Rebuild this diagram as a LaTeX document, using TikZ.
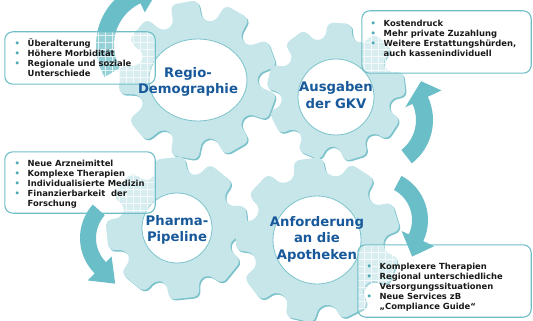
\documentclass[tikz,border=0pt]{standalone}
\usepackage{fontspec}
\setmainfont{DejaVu Sans}
\definecolor{gearc}{HTML}{C6E6EA}
\definecolor{gearsh}{HTML}{7CC3CB}
\definecolor{arrc}{HTML}{6ABEC7}
\definecolor{boxc}{HTML}{70BEC7}
\definecolor{labc}{HTML}{17599A}
\definecolor{bulc}{HTML}{4BA9B6}
\newcommand\gearpath[6]{%
 (#4+180/#1:#2) \foreach \k in {1,...,#1}{ -- (#4+360/#1*\k-#5:#2) -- (#4+360/#1*\k-#6:#3) -- (#4+360/#1*\k+#6:#3) -- (#4+360/#1*\k+#5:#2) } -- cycle}
\newcommand\bl{\makebox[13pt][l]{\textcolor{bulc}{•}}}
\newcommand\ind{\hspace*{13pt}}
\begin{document}
\begin{tikzpicture}[x=1pt,y=-1pt,
  gearlabel/.style={text=labc, font=\fontsize{13.2}{16.5}\selectfont\bfseries, align=center, inner sep=0pt},
  bullettext/.style={anchor=base west, align=left, inner sep=0pt, font=\fontsize{8.4}{10}\selectfont\bfseries, text=black!90},
  boxfill/.style={fill=white, fill opacity=0.3, draw=none, rounded corners=8pt, inner sep=0pt},
  boxborder/.style={draw=boxc, line width=1.1pt, rounded corners=8pt},
  gridlines/.style={draw=white, line width=0.7pt, opacity=0.7, step=7pt},
  arrowband/.style={fill=arrc},
  gearshadow/.style={fill=gearsh, rounded corners=6pt},
  gearbody/.style={fill=gearc, rounded corners=6pt},
  gearhole/.style={fill=white, draw=gearsh, line width=0.8pt}
]
\useasboundingbox (0,0) rectangle (533,321);

% gears
\fill[gearshadow, shift={(199.3,81.5)}] \gearpath{9}{60}{80}{-100}{14}{10};
\fill[gearbody, shift={(198,80)}] \gearpath{9}{60}{80}{-100}{14}{10};
\filldraw[gearhole] (198,80) ellipse [x radius=49, y radius=41];

\fill[gearshadow, shift={(178.3,229.5)}] \gearpath{8}{56}{72}{-6}{17}{12};
\fill[gearbody, shift={(177,228)}] \gearpath{8}{56}{72}{-6}{17}{12};
\filldraw[gearhole] (177,228) circle [radius=35];

\fill[gearshadow, shift={(337.3,93.5)}] \gearpath{9}{55}{70}{-7}{14}{10};
\fill[gearbody, shift={(336,92)}] \gearpath{9}{55}{70}{-7}{14}{10};
\filldraw[gearhole] (336,97) circle [radius=38];

\fill[gearshadow, shift={(319.3,241.5)}] \gearpath{9}{66}{83}{-97}{14}{10};
\fill[gearbody, shift={(318,240)}] \gearpath{9}{66}{83}{-97}{14}{10};
\filldraw[gearhole] (317,240) circle [radius=44];

% arrow 1 (under box 1)
\fill[arrowband, shift={(160,45)}] (150:64) arc[start angle=150, end angle=245, radius=64] -- (245:74) -- (268:55) -- (245:36) -- (245:46) arc[start angle=245, end angle=150, radius=46] -- cycle;

% boxes
\node[boxfill, minimum width=150pt, minimum height=52pt] (b1) at (80,58) {};
\node[boxfill, minimum width=169pt, minimum height=62pt] (b2) at (446.5,42) {};
\node[boxfill, minimum width=150pt, minimum height=61pt] (b3) at (80,182.5) {};
\node[boxfill, minimum width=173pt, minimum height=72pt] (b4) at (444.5,281) {};
\foreach \b in {b1,b2,b3,b4}{
  \begin{scope}
    \clip[rounded corners=8pt] (\b.north west) rectangle (\b.south east);
    \draw[gridlines] (\b.south west) grid (\b.north east);
  \end{scope}
  \draw[boxborder] (\b.north west) rectangle (\b.south east);
}

% box texts (anchored at the baseline of the last line)
\node[bullettext] (t1) at (14.5,76.5) {\bl Überalterung\\ \bl Höhere Morbidität\\ \bl Regionale und soziale\\ \ind Unterschiede};
\node[bullettext] (t2) at (370.5,56.5) {\bl Kostendruck\\ \bl Mehr private Zuzahlung\\ \bl Weitere Erstattungshürden,\\ \ind auch kassenindividuell};
\node[bullettext] (t3) at (14.5,206.5) {\bl Neue Arzneimittel\\ \bl Komplexe Therapien\\ \bl Individualisierte Medizin\\ \bl Finanzierbarkeit\ \ der\\ \ind Forschung};
\node[bullettext] (t4) at (366.5,309.5) {\bl Komplexere Therapien\\ \bl Regional unterschiedliche\\ \ind Versorgungssituationen\\ \bl Neue Services zB\\ \ind „Compliance Guide“};

% arrows 2-4
\fill[arrowband, shift={(378,120)}] (52:55) arc[start angle=52, end angle=-25, radius=55] -- (-25:70) -- (-42:58) -- (-25:30) -- (-25:38) arc[start angle=-25, end angle=52, radius=38] -- cycle;
\fill[arrowband, shift={(130,238)}] (222:50) arc[start angle=222, end angle=135, radius=50] -- (135:60) -- (108:48) -- (135:26) -- (135:34) arc[start angle=135, end angle=222, radius=34] -- cycle;
\fill[arrowband, shift={(378,220)}] (-62:50) arc[start angle=-62, end angle=25, radius=50] -- (25:62) -- (47:50) -- (25:26) -- (25:34) arc[start angle=25, end angle=-62, radius=34] -- cycle;

% gear labels
\node[gearlabel] (g1) at (188,82) {Regio-\\Demographie};
\node[gearlabel] (g2) at (336,95) {Ausgaben\\der GKV};
\node[gearlabel] (g3) at (177,230) {Pharma-\\Pipeline};
\node[gearlabel] (g4) at (317,239) {Anforderung\\an die\\Apotheken};
\end{tikzpicture}
\end{document}
